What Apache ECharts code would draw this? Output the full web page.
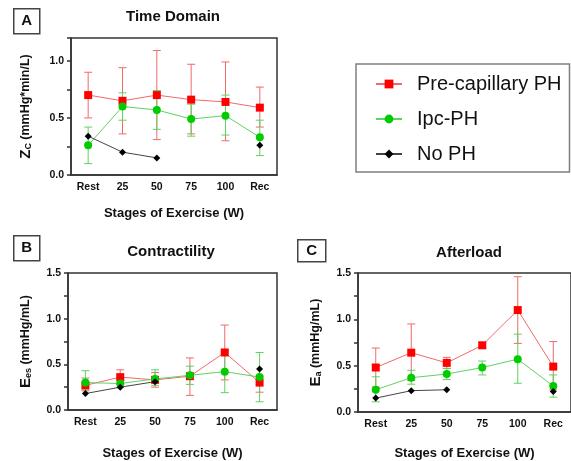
<!DOCTYPE html>
<html>
<head>
<meta charset="utf-8">
<script src="https://cdn.jsdelivr.net/npm/echarts@6/dist/echarts.min.js"></script>
<style>
  html, body { margin: 0; padding: 0; background: #fff; }
  #chart { width: 571px; height: 461px; }
</style>
</head>
<body>
<div id="chart"></div>
<script>
// stages on the x axis (same for all three panels)
var stages = ['Rest', '25', '50', '75', '100', 'Rec'];
var groups = ['Pre-capillary PH', 'Ipc-PH', 'No PH'];

// A: Time Domain, Zc (mmHg*min/L)
var zcPre = [0.70, 0.65, 0.70, 0.66, 0.64, 0.59];
var zcPreLo = [0.50, 0.36, 0.31, 0.36, 0.30, 0.42];
var zcPreHi = [0.90, 0.94, 1.09, 0.97, 0.99, 0.77];
var zcIpc = [0.26, 0.60, 0.57, 0.49, 0.52, 0.33];
var zcIpcLo = [0.10, 0.48, 0.40, 0.34, 0.35, 0.17];
var zcIpcHi = [0.42, 0.72, 0.74, 0.62, 0.70, 0.48];
var zcNo = [0.34, 0.20, 0.15, null, null, 0.26];

// B: Contractility, Ees (mmHg/mL)
var eesPre = [0.27, 0.36, 0.33, 0.37, 0.63, 0.30];
var eesPreLo = [0.21, 0.28, 0.25, 0.16, 0.33, 0.195];
var eesPreHi = [0.35, 0.44, 0.41, 0.57, 0.93, 0.37];
var eesIpc = [0.30, 0.29, 0.34, 0.38, 0.42, 0.36];
var eesIpcLo = [0.22, 0.25, 0.27, 0.28, 0.19, 0.09];
var eesIpcHi = [0.43, 0.33, 0.44, 0.48, 0.65, 0.63];
var eesNo = [0.18, 0.25, 0.31, null, null, 0.45];

// C: Afterload, Ea (mmHg/mL)
var eaPre = [0.48, 0.64, 0.53, 0.72, 1.10, 0.49];
var eaPreLo = [0.27, 0.34, 0.47, 0.69, 0.74, 0.24];
var eaPreHi = [0.69, 0.95, 0.59, 0.75, 1.46, 0.76];
var eaIpc = [0.24, 0.37, 0.41, 0.48, 0.57, 0.28];
var eaIpcLo = [0.11, 0.30, 0.35, 0.40, 0.31, 0.16];
var eaIpcHi = [0.38, 0.45, 0.47, 0.55, 0.84, 0.40];
var eaNo = [0.15, 0.23, 0.24, null, null, 0.22];

(function () {
    'use strict';

    var FONT = '"Liberation Sans", Arial, sans-serif';
    var AXIS = '#333';
    var RED = '#ff0000', RED_LINE = '#f06a6a';
    var GREEN = '#00cc00', GREEN_LINE = '#5fd35f';

    var chart = echarts.init(document.getElementById('chart'));

    function xAxis(gi, gap) {
        return {
            type: 'category', gridIndex: gi, data: stages,
            name: 'Stages of Exercise (W)', nameLocation: 'middle', nameGap: gap,
            nameTextStyle: { fontFamily: FONT, fontWeight: 'bold', fontSize: 13, color: '#111' },
            axisLine: { lineStyle: { color: AXIS, width: 1.5 } },
            axisTick: { alignWithLabel: true, length: 4, lineStyle: { color: AXIS, width: 1.5 } },
            axisLabel: { fontFamily: FONT, fontWeight: 'bold', fontSize: 10.5, color: '#111', margin: 7 },
            splitLine: { show: false }
        };
    }

    function yAxis(gi, max, name, gap) {
        return {
            type: 'value', gridIndex: gi, min: 0, max: max, interval: 0.25,
            name: name, nameLocation: 'middle', nameGap: gap,
            nameTextStyle: {
                color: '#111',
                rich: {
                    m: { fontFamily: FONT, fontWeight: 'bold', fontSize: 15, color: '#111' },
                    s: { fontFamily: FONT, fontWeight: 'bold', fontSize: 9, color: '#111', verticalAlign: 'bottom' },
                    t: { fontFamily: FONT, fontWeight: 'bold', fontSize: 12.5, color: '#111' }
                }
            },
            axisLine: { show: true, lineStyle: { color: AXIS, width: 1.5 } },
            axisTick: { show: true, length: 4, lineStyle: { color: AXIS, width: 1.5 } },
            axisLabel: {
                fontFamily: FONT, fontWeight: 'bold', fontSize: 10.5, color: '#111', margin: 7,
                // 只显示 0.5 的整数倍
                formatter: function (v) {
                    return Math.abs(v * 2 - Math.round(v * 2)) < 1e-6 ? v.toFixed(1) : '';
                }
            },
            splitLine: { show: false }
        };
    }

    // 误差线 (error bars with caps)
    function errRender(color) {
        return function (params, api) {
            var i = api.value(0);
            var lo = api.coord([i, api.value(1)]);
            var hi = api.coord([i, api.value(2)]);
            var w = 4;
            var st = { stroke: color, lineWidth: 1 };
            return {
                type: 'group',
                children: [
                    { type: 'line', shape: { x1: lo[0], y1: lo[1], x2: hi[0], y2: hi[1] }, style: st },
                    { type: 'line', shape: { x1: lo[0] - w, y1: lo[1], x2: lo[0] + w, y2: lo[1] }, style: st },
                    { type: 'line', shape: { x1: hi[0] - w, y1: hi[1], x2: hi[0] + w, y2: hi[1] }, style: st }
                ]
            };
        };
    }

    function errSeries(gi, lo, hi, color) {
        return {
            type: 'custom', name: 'err', xAxisIndex: gi, yAxisIndex: gi, z: 1,
            renderItem: errRender(color),
            encode: { x: 0, y: [1, 2] },
            data: stages.map(function (s, i) { return [i, lo[i], hi[i]]; })
        };
    }

    function lineSeries(gi, name, data, symbol, size, mark, line) {
        return {
            type: 'line', name: name, xAxisIndex: gi, yAxisIndex: gi, z: 3,
            data: data, symbol: symbol, symbolSize: size, connectNulls: false,
            itemStyle: { color: mark },
            lineStyle: { color: line, width: 1 }
        };
    }

    function panel(gi, pre, preLo, preHi, ipc, ipcLo, ipcHi, no) {
        return [
            errSeries(gi, preLo, preHi, RED_LINE),
            errSeries(gi, ipcLo, ipcHi, GREEN_LINE),
            lineSeries(gi, groups[0], pre, 'rect', 8, RED, RED_LINE),
            lineSeries(gi, groups[1], ipc, 'circle', 8, GREEN, GREEN_LINE),
            lineSeries(gi, groups[2], no, 'diamond', 7, '#000', '#444')
        ];
    }

    function labelBox(x, y, w, h, txt) {
        return {
            type: 'group', left: x, top: y,
            children: [
                { type: 'rect', shape: { x: 0, y: 0, width: w, height: h }, style: { fill: '#fff', stroke: '#444', lineWidth: 1.5 } },
                { type: 'text', x: w / 2, y: h / 2, style: { text: txt, fill: '#111', font: 'bold 15px ' + FONT, align: 'center', verticalAlign: 'middle' } }
            ]
        };
    }

    var gridBase = { show: true, borderColor: AXIS, borderWidth: 1.5, containLabel: false };

    var option = {
        animation: false,
        backgroundColor: '#fff',
        title: [
            { text: 'Time Domain', left: 173, top: 9, textAlign: 'center', padding: 0,
              textStyle: { fontFamily: FONT, fontWeight: 'bold', fontSize: 15, color: '#111' } },
            { text: 'Contractility', left: 171, top: 244, textAlign: 'center', padding: 0,
              textStyle: { fontFamily: FONT, fontWeight: 'bold', fontSize: 15, color: '#111' } },
            { text: 'Afterload', left: 469, top: 245, textAlign: 'center', padding: 0,
              textStyle: { fontFamily: FONT, fontWeight: 'bold', fontSize: 15, color: '#111' } }
        ],
        legend: {
            data: groups, orient: 'vertical', left: 356, top: 64,
            padding: [10, 8, 8, 19], itemWidth: 26, itemHeight: 11, itemGap: 15,
            borderColor: '#7f7f7f', borderWidth: 1.5, selectedMode: false,
            textStyle: { fontFamily: FONT, fontSize: 20, color: '#111', padding: [0, 0, 0, 10] }
        },
        grid: [
            Object.assign({ left: 71, top: 38, width: 206, height: 137 }, gridBase),
            Object.assign({ left: 68, top: 273, width: 209, height: 139 }, gridBase),
            Object.assign({ left: 358, top: 273, width: 217, height: 141 }, gridBase)
        ],
        xAxis: [xAxis(0, 32), xAxis(1, 37), xAxis(2, 35)],
        yAxis: [
            yAxis(0, 1.2, '{m|Z}{s|C} {t|(mmHg*min/L)}', 38),
            yAxis(1, 1.5, '{m|E}{s|es} {t|(mmHg/mL)}', 35),
            yAxis(2, 1.5, '{m|E}{s|a} {t|(mmHg/mL)}', 35)
        ],
        graphic: [
            labelBox(13, 8, 26, 25, 'A'),
            labelBox(13, 235, 26, 25, 'B'),
            labelBox(297, 239, 28, 22, 'C')
        ],
        series: [].concat(
            panel(0, zcPre, zcPreLo, zcPreHi, zcIpc, zcIpcLo, zcIpcHi, zcNo),
            panel(1, eesPre, eesPreLo, eesPreHi, eesIpc, eesIpcLo, eesIpcHi, eesNo),
            panel(2, eaPre, eaPreLo, eaPreHi, eaIpc, eaIpcLo, eaIpcHi, eaNo)
        )
    };

    chart.setOption(option);
})();
</script>
</body>
</html>
